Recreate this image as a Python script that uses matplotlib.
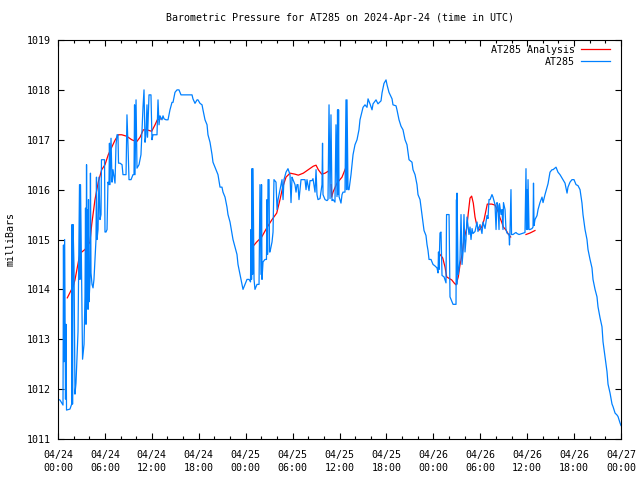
import matplotlib
matplotlib.use('Agg')
import matplotlib.pyplot as plt
import numpy as np

# hours after 2024-04-24 00:00 UTC, pressure in mbar
at285_hours = [
    0.00, 0.26, 0.64, 0.70, 0.77, 0.85, 0.96, 1.02, 1.09, 1.53, 1.75, 1.80, 1.86, 1.92, 2.05, 2.17,
    2.30, 2.56, 2.69, 2.75, 2.81, 2.88, 2.94, 3.07, 3.14, 3.33, 3.45, 3.52, 3.58, 3.65, 3.71, 3.78,
    3.84, 3.90, 3.96, 4.09, 4.15, 4.22, 4.35, 4.48, 4.60, 4.73, 4.86, 4.92, 4.99, 5.12, 5.24, 5.37,
    5.50, 5.56, 5.63, 5.95, 6.01, 6.14, 6.27, 6.39, 6.52, 6.58, 6.65, 6.78, 6.91, 7.03, 7.29, 7.42,
    7.55, 7.67, 7.74, 7.93, 8.19, 8.31, 8.70, 8.82, 8.95, 9.08, 9.34, 9.59, 9.72, 9.79, 9.85, 9.98,
    10.10, 10.36, 10.61, 10.74, 10.87, 11.00, 11.13, 11.25, 11.38, 11.45, 11.64, 11.89, 12.02, 12.15,
    12.66, 12.79, 12.92, 13.04, 13.30, 13.43, 13.56, 13.81, 14.07, 14.32, 14.58, 14.71, 14.96, 15.22,
    15.47, 15.73, 16.00, 16.63, 17.14, 17.26, 17.52, 17.78, 17.90, 18.16, 18.42, 18.54, 18.80, 19.06,
    19.18, 19.44, 19.70, 19.82, 20.08, 20.33, 20.46, 20.72, 20.97, 21.10, 21.36, 21.61, 21.74, 22.00,
    22.38, 22.89, 23.02, 23.28, 23.66, 23.91, 24.17, 24.43, 24.62, 24.68, 24.75, 24.81, 24.88, 24.94,
    25.07, 25.19, 25.45, 25.71, 25.83, 25.96, 26.03, 26.09, 26.22, 26.47, 26.66, 26.73, 26.80, 26.86,
    26.99, 27.05, 27.11, 27.37, 27.50, 27.62, 27.88, 28.01, 28.14, 28.39, 28.65, 28.78, 28.90, 29.16,
    29.41, 29.67, 29.80, 29.93, 30.05, 30.31, 30.44, 30.57, 30.69, 30.82, 31.08, 31.33, 31.59, 31.72,
    31.84, 32.10, 32.23, 32.48, 32.61, 32.87, 33.00, 33.12, 33.25, 33.51, 33.76, 33.83, 33.89, 34.15,
    34.40, 34.53, 34.66, 34.79, 34.91, 35.04, 35.17, 35.42, 35.55, 35.68, 35.75, 35.81, 35.88, 35.94,
    36.19, 36.32, 36.45, 36.70, 36.83, 36.90, 36.96, 37.09, 37.22, 37.47, 37.73, 37.98, 38.24, 38.49,
    38.62, 39.01, 39.26, 39.52, 39.65, 39.90, 40.16, 40.29, 40.67, 40.92, 41.31, 41.44, 41.69, 41.95,
    42.08, 42.33, 42.72, 42.84, 43.23, 43.35, 43.61, 43.87, 44.12, 44.38, 44.63, 44.89, 45.27, 45.40,
    45.66, 45.91, 46.04, 46.30, 46.42, 46.68, 46.81, 47.06, 47.19, 47.32, 47.45, 47.70, 47.96, 48.21,
    48.47, 48.60, 48.66, 48.73, 48.85, 48.98, 49.11, 49.37, 49.62, 49.69, 50.01, 50.13, 50.39, 50.52,
    50.90, 50.96, 51.00, 51.03, 51.16, 51.28, 51.41, 51.54, 51.67, 51.80, 51.92, 52.05, 52.18, 52.31,
    52.56, 52.69, 52.82, 52.95, 53.07, 53.33, 53.59, 53.71, 53.97, 54.22, 54.35, 54.61, 54.86, 54.99,
    55.12, 55.25, 55.50, 55.63, 55.89, 56.02, 56.14, 56.27, 56.40, 56.46, 56.66, 56.78, 56.91, 56.97,
    57.17, 57.29, 57.42, 57.68, 57.74, 57.81, 57.93, 58.00, 58.19, 58.45, 58.57, 58.70, 58.96, 59.34,
    59.72, 59.85, 59.92, 59.98, 60.05, 60.11, 60.24, 60.36, 60.62, 60.75, 60.81, 60.88, 61.00, 61.26,
    61.39, 61.64, 61.90, 62.03, 62.28, 62.54, 62.67, 62.92, 63.18, 63.31, 63.69, 63.94, 64.20, 64.84,
    65.10, 65.22, 65.48, 65.73, 65.99, 66.25, 66.50, 66.76, 67.01, 67.14, 67.40, 67.65, 67.78, 68.04,
    68.29, 68.42, 68.68, 68.93, 69.06, 69.32, 69.57, 69.70, 69.96, 70.21, 70.34, 70.60, 70.85, 70.98,
    71.24, 71.49, 71.62, 71.88, 72.00,
]
at285_mbar = [
    1011.80, 1011.78, 1011.68, 1014.89, 1012.55, 1015.00, 1011.80, 1013.30, 1011.58, 1011.60, 1011.70, 1015.30, 1011.70, 1015.30, 1014.45, 1011.90,
    1012.12, 1013.15, 1015.13, 1016.10, 1014.20, 1016.10, 1015.30, 1013.48, 1012.60, 1012.90, 1013.85, 1015.63, 1013.30, 1016.50, 1014.00, 1015.60,
    1013.60, 1015.80, 1013.75, 1014.15, 1016.33, 1014.33, 1014.10, 1014.03, 1014.20, 1014.60, 1015.00, 1016.25, 1015.00, 1015.20, 1016.25, 1015.40,
    1015.50, 1016.60, 1016.60, 1016.60, 1015.15, 1015.15, 1015.20, 1016.15, 1016.10, 1016.93, 1016.10, 1017.03, 1016.15, 1016.40, 1016.13, 1016.90,
    1017.10, 1017.10, 1016.53, 1016.53, 1016.50, 1016.30, 1016.30, 1017.50, 1016.90, 1016.20, 1016.20, 1016.30, 1016.30, 1017.70, 1016.30, 1017.80,
    1016.43, 1016.50, 1016.70, 1017.20, 1017.65, 1018.00, 1016.95, 1017.10, 1017.70, 1017.05, 1017.90, 1017.90, 1017.00, 1017.10,
    1017.10, 1017.80, 1017.30, 1017.48, 1017.40, 1017.48, 1017.42, 1017.40, 1017.40, 1017.60, 1017.75, 1017.75, 1017.95, 1018.00,
    1018.00, 1017.90, 1017.90, 1017.90, 1017.90, 1017.82, 1017.73, 1017.80, 1017.80, 1017.73, 1017.70, 1017.60, 1017.40, 1017.30,
    1017.10, 1016.95, 1016.70, 1016.55, 1016.45, 1016.35, 1016.30, 1016.05, 1016.05, 1015.95, 1015.85, 1015.65, 1015.50, 1015.35,
    1015.00, 1014.70, 1014.50, 1014.30, 1014.00, 1014.10, 1014.20, 1014.20, 1014.15, 1015.20, 1014.20, 1016.42, 1014.30, 1016.42,
    1014.20, 1014.00, 1014.10, 1014.10, 1016.10, 1014.30, 1016.10, 1014.20, 1014.55, 1014.60, 1014.60, 1015.80, 1014.70, 1016.20,
    1016.20, 1014.75, 1014.75, 1014.95, 1015.15, 1016.20, 1016.15, 1015.60, 1015.80, 1016.00, 1016.20, 1015.80, 1016.20, 1016.35,
    1016.42, 1016.30, 1015.74, 1016.25, 1016.20, 1016.10, 1015.95, 1016.10, 1016.10, 1015.80, 1016.20, 1016.20, 1016.20, 1016.00,
    1016.20, 1015.98, 1016.18, 1016.18, 1016.22, 1015.95, 1016.40, 1015.90, 1015.80, 1015.82, 1016.10, 1016.93, 1015.90, 1015.80,
    1015.78, 1015.80, 1017.70, 1015.82, 1017.50, 1015.78, 1015.80, 1015.75, 1017.30, 1015.86, 1017.60, 1015.90, 1017.60, 1015.86,
    1015.73, 1015.90, 1015.95, 1015.95, 1017.80, 1016.00, 1017.80, 1016.00, 1016.00, 1016.30, 1016.70, 1016.90, 1017.00, 1017.20,
    1017.40, 1017.65, 1017.70, 1017.65, 1017.82, 1017.72, 1017.60, 1017.72, 1017.80, 1017.72, 1017.78, 1017.94, 1018.13, 1018.20,
    1018.10, 1017.95, 1017.82, 1017.70, 1017.68, 1017.60, 1017.40, 1017.27, 1017.20, 1017.00, 1016.90, 1016.60, 1016.55, 1016.40,
    1016.30, 1016.10, 1015.90, 1015.80, 1015.65, 1015.33, 1015.18, 1015.08, 1014.90, 1014.78, 1014.60, 1014.60, 1014.50, 1014.47,
    1014.43, 1014.33, 1014.75, 1014.40, 1015.13, 1015.15, 1014.28, 1014.25, 1014.13, 1015.50, 1015.50, 1013.85, 1013.75, 1013.70,
    1013.70, 1015.80, 1014.10, 1015.93, 1014.30, 1014.40, 1014.60, 1015.50, 1014.50, 1014.75, 1015.50, 1014.75, 1015.00, 1015.45,
    1015.10, 1015.25, 1015.00, 1015.22, 1015.12, 1015.16, 1015.35, 1015.16, 1015.30, 1015.12, 1015.35, 1015.22, 1015.48, 1015.42,
    1015.80, 1015.80, 1015.90, 1015.85, 1015.70, 1015.20, 1015.74, 1015.68, 1015.20, 1015.72, 1015.50, 1015.60, 1015.20, 1015.74,
    1015.60, 1015.20, 1015.13, 1015.10, 1014.89, 1015.20, 1016.00, 1015.10, 1015.10, 1015.13, 1015.14, 1015.12, 1015.10, 1015.12,
    1015.14, 1016.42, 1015.20, 1016.00, 1015.20, 1016.20, 1015.20, 1015.20, 1015.22, 1015.25, 1016.13, 1015.28, 1015.40, 1015.48,
    1015.60, 1015.74, 1015.85, 1015.74, 1015.90, 1016.05, 1016.12, 1016.35, 1016.40, 1016.40, 1016.45, 1016.35, 1016.30, 1016.13,
    1015.93, 1016.05, 1016.15, 1016.20, 1016.20, 1016.10, 1016.08, 1016.00, 1015.73, 1015.50, 1015.20, 1015.00, 1014.80, 1014.60,
    1014.43, 1014.20, 1014.00, 1013.85, 1013.65, 1013.43, 1013.25, 1012.95, 1012.65, 1012.35, 1012.10, 1011.92, 1011.70, 1011.65,
    1011.52, 1011.48, 1011.45, 1011.32, 1011.27,
]

# analysis series, NaN = gap in the line
analysis_hours = [
    1.19, 1.96, 2.17, 2.60, 2.81, 3.45, 4.09, 4.31, 4.73, 5.15, 5.59, 6.01, 6.43, 6.87, 7.29, 7.71,
    8.15, 8.79, 9.43, 10.06, 10.49, 10.91, 11.34, 11.98, 12.41, 12.70, 13.17, np.nan,
    24.77, 25.41, 26.05, 26.69, 27.33, 27.97, 28.39, 28.74, 29.16, 29.67, 30.31, 30.73, 31.37, 32.01,
    32.65, 33.00, 33.29, 33.72, 34.15, 34.57, np.nan,
    34.93, 35.00, 35.17, 35.68, 36.32, 36.83, 36.96, np.nan,
    48.85, 49.20, 49.49, 49.71, 49.91, 50.35, 50.65, 50.90, 51.19, 51.41, 51.71, 51.92, 52.27, 52.47,
    52.69, 52.90, 53.11, 53.33, 53.55, 53.88, 54.19, 54.48, 54.74, 54.90, 55.47, 55.89, 56.31, 56.53,
    56.74, 56.95, 57.29, 57.58, 57.89, np.nan,
    59.85, 60.36, 60.62, 61.00,
]
analysis_mbar = [
    1013.83, 1014.07, 1014.19, 1014.55, 1014.72, 1014.80, 1014.95, 1015.30, 1015.80, 1016.15, 1016.40, 1016.50, 1016.70, 1016.85, 1016.99, 1017.10,
    1017.10, 1017.07, 1017.00, 1016.96, 1017.05, 1017.20, 1017.20, 1017.17, 1017.30, 1017.40, 1017.42, np.nan,
    1014.83, 1014.95, 1015.05, 1015.23, 1015.39, 1015.53, 1015.80, 1016.05, 1016.25, 1016.33, 1016.31, 1016.29, 1016.33, 1016.40,
    1016.47, 1016.49, 1016.40, 1016.31, 1016.33, 1016.37, np.nan,
    1016.10, 1015.85, 1015.95, 1016.13, 1016.25, 1016.45, 1016.45, np.nan,
    1014.70, 1014.63, 1014.45, 1014.25, 1014.23, 1014.19, 1014.13, 1014.09, 1014.25, 1014.49, 1014.73, 1015.00, 1015.23, 1015.53,
    1015.83, 1015.87, 1015.73, 1015.45, 1015.29, 1015.19, 1015.25, 1015.39, 1015.59, 1015.71, 1015.71, 1015.69, 1015.55, 1015.43,
    1015.35, 1015.25, 1015.19, 1015.11, 1015.05, np.nan,
    1015.10, 1015.13, 1015.15, 1015.18,
]

xtick_hours = [0, 6, 12, 18, 24, 30, 36, 42, 48, 54, 60, 66, 72]
xtick_labels = ["04/24\n00:00", "04/24\n06:00", "04/24\n12:00", "04/24\n18:00",
                "04/25\n00:00", "04/25\n06:00", "04/25\n12:00", "04/25\n18:00",
                "04/26\n00:00", "04/26\n06:00", "04/26\n12:00", "04/26\n18:00",
                "04/27\n00:00"]
ytick_vals = [1011, 1012, 1013, 1014, 1015, 1016, 1017, 1018, 1019]

plt.rcParams['font.family'] = 'DejaVu Sans Mono'
plt.rcParams['font.size'] = 7.2

fig = plt.figure(figsize=(6.4, 4.8), dpi=100)
ax = fig.add_axes([58 / 640, 41 / 480, 563 / 640, 399 / 480])

ax.plot(analysis_hours, analysis_mbar, color='#ff0000', linewidth=0.9, label='AT285 Analysis')
ax.plot(at285_hours, at285_mbar, color='#0080ff', linewidth=0.9, label='AT285')

ax.set_xlim(0, 72)
ax.set_ylim(1011, 1019)
ax.set_xticks(xtick_hours)
ax.set_xticklabels(xtick_labels, linespacing=1.35)
ax.set_xticks(np.arange(0, 73, 2), minor=True)
ax.set_yticks(ytick_vals)
ax.tick_params(axis='both', which='major', direction='in', length=4, width=0.8,
               top=True, right=True, pad=5, labelsize=7.2)
ax.tick_params(axis='x', which='major', pad=8)
ax.tick_params(axis='x', which='minor', direction='in', length=2, width=0.8, top=True)
for s in ax.spines.values():
    s.set_linewidth(0.8)

ax.set_ylabel('milliBars', labelpad=8)
fig.text(339.5 / 640, 1 - 18 / 480, 'Barometric Pressure for AT285 on 2024-Apr-24 (time in UTC)',
         ha='center', va='center', fontsize=7.2)

leg = ax.legend(loc='upper right', bbox_to_anchor=((613 - 58) / 563, 0.995),
                frameon=False, markerfirst=False, handlelength=2.9,
                handletextpad=0.6, borderaxespad=0, borderpad=0.3, labelspacing=0.2,
                fontsize=7.2)
for t in leg.get_texts():
    t.set_ha('right')

fig.savefig('out.png', dpi=100)
